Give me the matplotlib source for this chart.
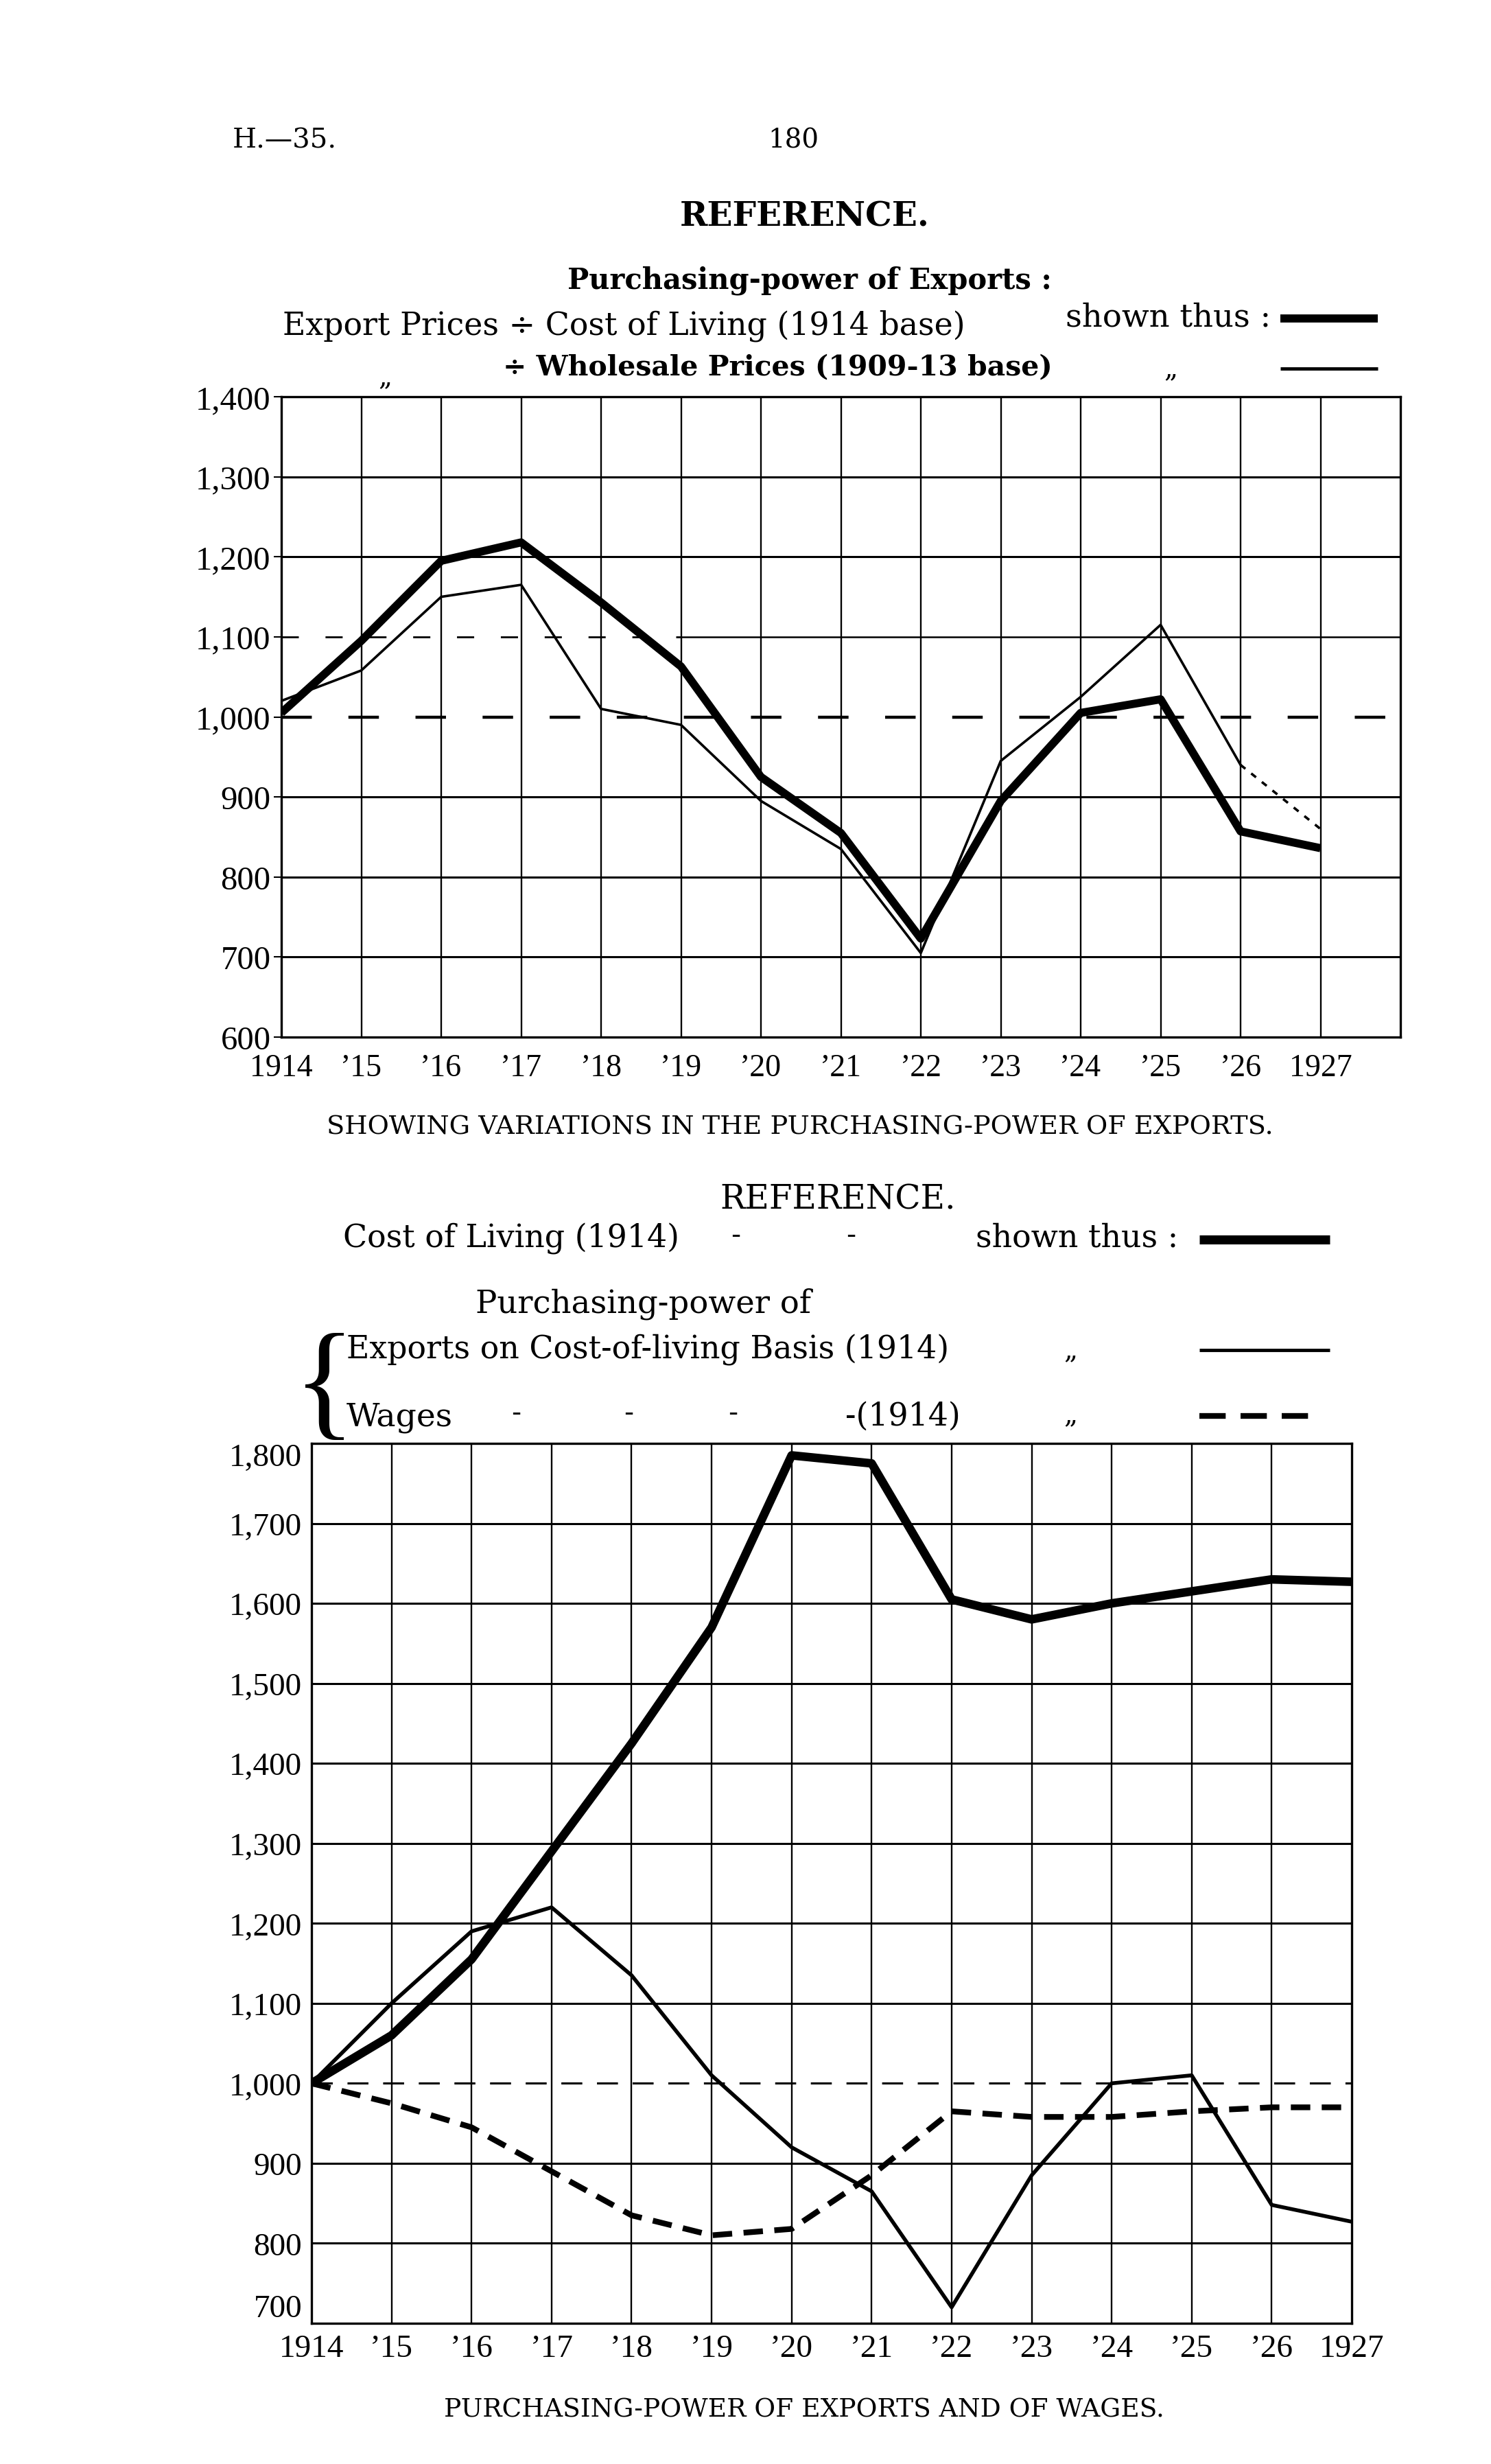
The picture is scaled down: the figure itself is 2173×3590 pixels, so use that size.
import matplotlib.pyplot as plt
from matplotlib.lines import Line2D

plt.rcParams['font.family'] = ['Liberation Serif', 'DejaVu Serif']
WIDE = ['DejaVu Serif', 'Liberation Serif']  # wider face for the running text

W, H = 2173, 3591

years = list(range(1914, 1928))
year_labels = ['1914'] + ['\u2019%02d' % (y % 100) for y in years[1:-1]] + ['1927']

# top chart: purchasing-power of exports
export_prices_on_cost_of_living = [1005, 1095, 1195, 1218, 1143, 1063, 925, 855, 723,
                                   895, 1005, 1022, 857, 836]
export_prices_on_wholesale = [1020, 1058, 1150, 1165, 1010, 990, 895, 835, 705,
                              945, 1025, 1115, 940, 860]
top_yticks = [600, 700, 800, 900, 1000, 1100, 1200, 1300, 1400]
top_ytick_labels = ['600', '700', '800', '900', '1,000', '1,100', '1,200', '1,300', '1,400']

# bottom chart: cost of living, exports and wages
cost_of_living = [1000, 1060, 1155, 1290, 1425, 1570, 1785, 1775, 1605, 1580,
                  1600, 1615, 1630, 1627]
exports_cost_of_living_basis = [1000, 1100, 1190, 1220, 1135, 1010, 920, 865, 720,
                                885, 1000, 1010, 848, 827]
wages = [1000, 975, 945, 890, 835, 810, 818, 885, 965, 958, 958, 965, 970, 970]
bottom_yticks = [700, 800, 900, 1000, 1100, 1200, 1300, 1400, 1500, 1600, 1700, 1800]
bottom_ytick_labels = ['700', '800', '900', '1,000', '1,100', '1,200', '1,300',
                       '1,400', '1,500', '1,600', '1,700', '1,800']

fig = plt.figure(figsize=(W / 100, H / 100), dpi=100)
fig.patch.set_facecolor('white')


def put(x, y, s, size, ha='left', weight='normal', va='baseline', family=WIDE):
    # x, y in page pixels (y from the top)
    fig.text(x / W, 1 - y / H, s, fontsize=size, ha=ha, va=va, fontweight=weight,
             family=family)


def swatch(x0, x1, y, lw, ls='-'):
    fig.add_artist(Line2D([x0 / W, x1 / W], [1 - y / H, 1 - y / H], lw=lw, ls=ls,
                          color='black', solid_capstyle='butt', dash_capstyle='butt'))


def frame(ax):
    for s in ax.spines.values():
        s.set_linewidth(2.4)
        s.set_color('black')


# page header
put(339, 215, 'H.\u201435.', 29)
put(1156, 215, '180', 28, ha='center')

# top reference block
put(1173, 330, 'REFERENCE.', 35, ha='center', weight='bold')
put(1180, 421, 'Purchasing-power of Exports :', 30, ha='center', weight='bold')
put(412, 487, 'Export Prices \u00f7 Cost of Living (1914 base)', 33)
put(1553, 475, 'shown thus :', 33.5)
swatch(1866, 2008, 465, 8.5)
put(561, 560, '\u201e', 28, ha='center')
put(733, 547, '\u00f7 Wholesale Prices (1909-13 base)', 29.5, weight='bold')
put(1706, 548, '\u201e', 28, ha='center')
swatch(1866, 2008, 538, 3.5)

# top chart
ax1 = fig.add_axes([410 / W, 1 - 1512 / H, (2041 - 410) / W, (1512 - 579) / H])
ax1.set_xlim(1914, 1928)
ax1.set_ylim(600, 1400)
for y in [700, 800, 900, 1200, 1300]:
    ax1.axhline(y, color='black', lw=2.2, zorder=1)
ax1.hlines(1100, 1919, 1928, color='black', lw=1.8, zorder=1)
ax1.hlines(1100, 1914, 1919, color='black', lw=2.0, ls=(0, (9, 14)), zorder=1)
ax1.axhline(1000, color='black', lw=3.2, ls=(0, (10, 12)), zorder=1)
for x in years[1:]:
    ax1.axvline(x, color='black', lw=1.7, zorder=1)
ax1.plot(years[:-1], export_prices_on_wholesale[:-1], color='black', lw=2.6,
         solid_joinstyle='round', zorder=3)
ax1.plot(years[-2:], export_prices_on_wholesale[-2:], color='black', lw=2.6,
         ls=(0, (2.5, 3)), zorder=3)
ax1.plot(years, export_prices_on_cost_of_living, color='black', lw=8.5,
         solid_joinstyle='round', solid_capstyle='butt', zorder=4)
ax1.set_xticks(years, year_labels)
ax1.set_yticks(top_yticks, top_ytick_labels)
ax1.tick_params(axis='x', length=0, pad=17, labelsize=33)
ax1.tick_params(axis='y', length=8, width=1.5, pad=3, labelsize=35)
frame(ax1)

put(1166, 1653, 'SHOWING VARIATIONS IN THE PURCHASING-POWER OF EXPORTS.', 27.5, ha='center')

# bottom reference block
put(1221, 1762, 'REFERENCE.', 35, ha='center')
put(500, 1818, 'Cost of Living (1914)', 33)
put(1072, 1812, '-', 30, ha='center')
put(1240, 1812, '-', 30, ha='center')
put(1422, 1817, 'shown thus :', 33)
swatch(1748, 1938, 1807, 9.5)
put(693, 1913, 'Purchasing-power of', 33.5)
put(473, 2028, '{', 135, ha='center', va='center', family=['Liberation Serif'])
put(505, 1980, 'Exports on Cost-of-living Basis (1914)', 33)
put(1560, 1978, '\u201e', 28, ha='center')
swatch(1748, 1938, 1968, 3.5)
put(505, 2077, 'Wages', 34)
for xd in [752, 916, 1068]:
    put(xd, 2071, '-', 30, ha='center')
put(1232, 2077, '-(1914)', 33)
put(1560, 2072, '\u201e', 28, ha='center')
swatch(1748, 1928, 2064, 6.0, ls=(0, (4.6, 2.6)))

# bottom chart
ax2 = fig.add_axes([454 / W, 1 - 3386 / H, (1970 - 454) / W, (3386 - 2104) / H])
ax2.set_xlim(1914, 1927)
ax2.set_ylim(700, 1800)
for y in [800, 900, 1100, 1200, 1300, 1400, 1500, 1600, 1700]:
    ax2.axhline(y, color='black', lw=2.2, zorder=1)
ax2.axhline(1000, color='black', lw=2.2, ls=(0, (10, 7)), zorder=1)
for x in years[1:-1]:
    ax2.axvline(x, color='black', lw=1.7, zorder=1)
ax2.plot(years, wages, color='black', lw=6.0, ls=(0, (3.4, 2.0)), zorder=3)
ax2.plot(years, exports_cost_of_living_basis, color='black', lw=4.0,
         solid_joinstyle='round', zorder=3)
ax2.plot(years, cost_of_living, color='black', lw=9.0,
         solid_joinstyle='round', solid_capstyle='butt', zorder=4)
ax2.set_xticks(years, year_labels)
ax2.set_yticks(bottom_yticks, bottom_ytick_labels)
ax2.tick_params(axis='x', length=0, pad=11, labelsize=34)
ax2.tick_params(axis='y', length=0, pad=10, labelsize=34)
ylabels = ax2.get_yticklabels()
ylabels[0].set_va('bottom')
ylabels[-1].set_va('top')
frame(ax2)

put(1172, 3522, 'PURCHASING-POWER OF EXPORTS AND OF WAGES.', 27, ha='center')

fig.savefig('out.png', dpi=100, facecolor='white')
